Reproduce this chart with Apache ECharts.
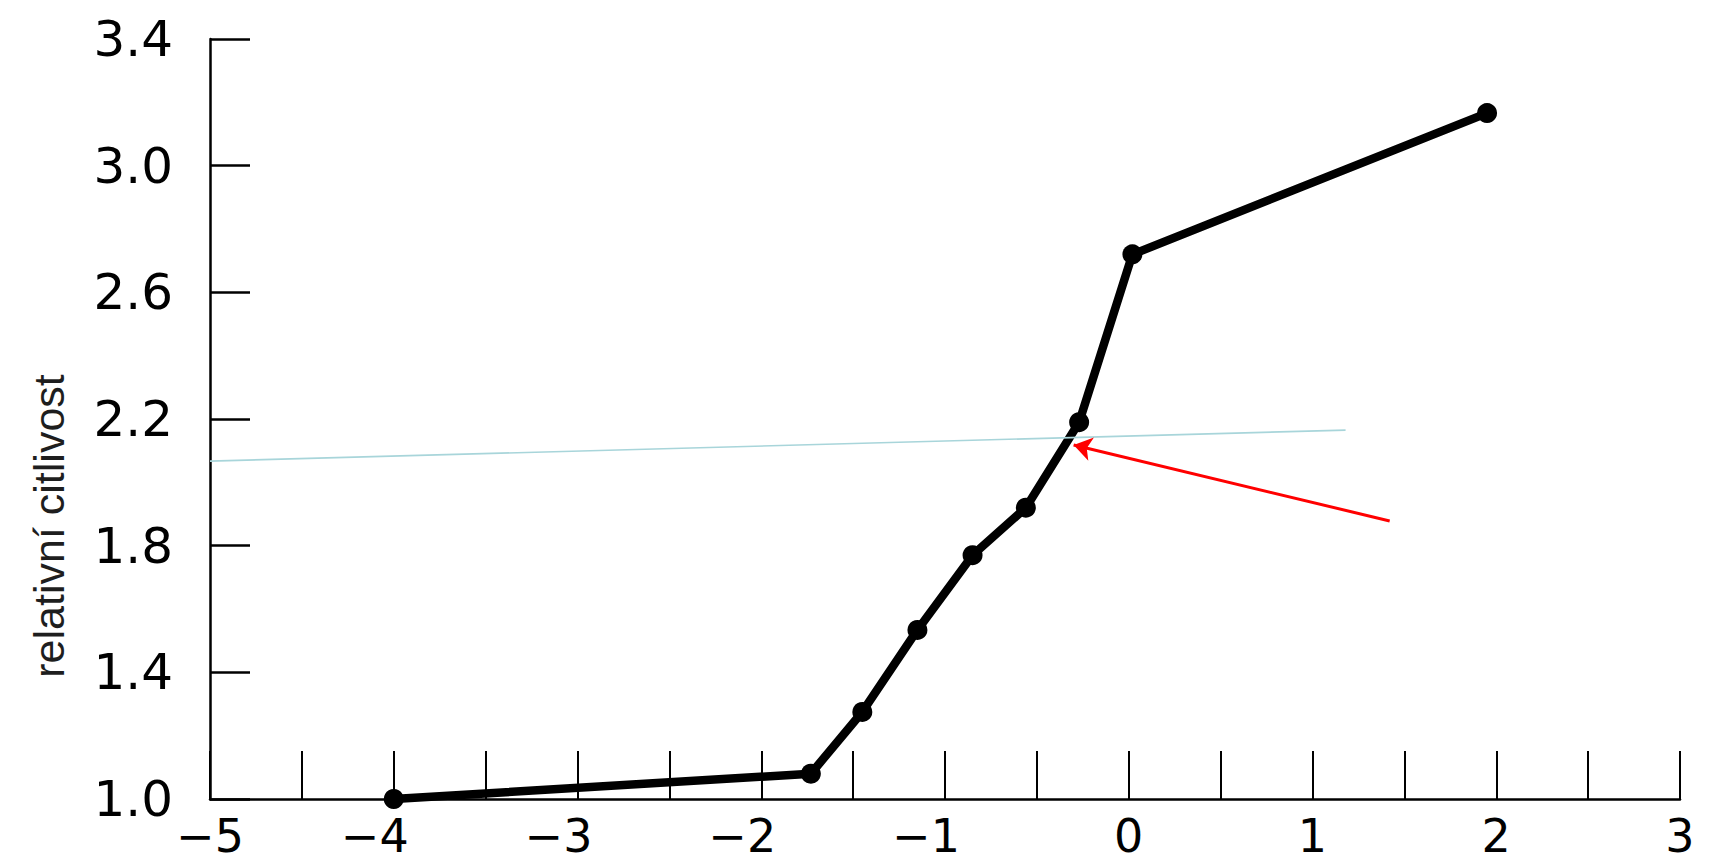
<!DOCTYPE html>
<html>
<head>
<meta charset="utf-8">
<script src="https://cdn.jsdelivr.net/npm/echarts@6/dist/echarts.min.js"></script>
<style>
html,body{margin:0;padding:0;background:#ffffff;}
#chart{width:1709px;height:864px;}
</style>
</head>
<body>
<div id="chart"></div>
<script>
// ---- data ----
const xValues = [-4, -1.73, -1.45, -1.15, -0.85, -0.56, -0.27, 0.02, 1.95];
const yValues = [1.0, 1.08, 1.275, 1.534, 1.77, 1.92, 2.19, 2.72, 3.166];
const xTickLabels = [-5, -4, -3, -2, -1, 0, 1, 2, 3];
const xTickMarks = [-5, -4.5, -4, -3.5, -3, -2.5, -2, -1.5, -1, -0.5, 0, 0.5, 1, 1.5, 2, 2.5, 3];
const yTickLabels = [1.0, 1.4, 1.8, 2.2, 2.6, 3.0, 3.4];
const refLineX = [-5, 1.18];
const refLineY = [2.067, 2.165];
const arrowFrom = [1.42, 1.878];
const arrowTo = [-0.30, 2.118];
const yAxisTitle = 'relativní citlivost';

const chart = echarts.init(document.getElementById('chart'), null, {renderer: 'svg'});

const curve = xValues.map((x, i) => [x, yValues[i]]);
const refLine = refLineX.map((x, i) => [x, refLineY[i]]);

const tickFont = 'DejaVu Sans';
const xMin = xTickLabels[0];

const option = {
  backgroundColor: '#ffffff',
  animation: false,
  grid: {left: 210, right: 29, top: 39, bottom: 65, containLabel: false, outerBoundsMode: 'none'},
  xAxis: {
    type: 'value',
    min: -5,
    max: 3,
    splitLine: {show: false},
    axisLine: {show: true, onZero: false, lineStyle: {color: '#000', width: 2.5}},
    axisTick: {show: true, inside: true, length: 48, customValues: xTickMarks, lineStyle: {color: '#000', width: 2}},
    axisLabel: {
      show: true,
      customValues: xTickLabels,
      margin: 14,
      formatter: function (v) {
        if (v === xMin) return '{n|\u2212' + Math.abs(v) + '}';
        if (v < 0) return '{n|\u2212' + Math.abs(v) + '}{p|}';
        return '{n|' + v + '}';
      },
      rich: {
        n: {fontFamily: tickFont, fontSize: 46, lineHeight: 46, color: '#000'},
        p: {width: 38, lineHeight: 46}
      }
    }
  },
  yAxis: {
    type: 'value',
    min: 1.0,
    max: 3.4,
    splitLine: {show: false},
    axisLine: {show: true, onZero: false, lineStyle: {color: '#000', width: 2.5}},
    axisTick: {show: true, inside: true, length: 40, customValues: yTickLabels, lineStyle: {color: '#000', width: 2.5}},
    axisLabel: {
      show: true,
      customValues: yTickLabels,
      margin: 37,
      fontFamily: tickFont,
      fontSize: 50,
      lineHeight: 50,
      color: '#000',
      formatter: function (v) { return v.toFixed(1); }
    }
  },
  graphic: [{
    type: 'text',
    x: 49,
    y: 526,
    rotation: Math.PI / 2,
    style: {
      text: yAxisTitle,
      font: '43px "Liberation Sans"',
      fill: '#1e1e1e',
      align: 'center',
      verticalAlign: 'middle'
    }
  }],
  series: [
    {
      type: 'line',
      data: curve,
      symbol: 'circle',
      symbolSize: 20,
      lineStyle: {color: '#000', width: 8.5},
      itemStyle: {color: '#000'},
      z: 2
    },
    {
      type: 'line',
      data: refLine,
      symbol: 'none',
      lineStyle: {color: '#a8d5da', width: 1.6},
      z: 3,
      markLine: {
        silent: true,
        symbol: ['none', 'arrow'],
        symbolSize: 18,
        label: {show: false},
        lineStyle: {color: '#ff0000', width: 3, type: 'solid'},
        data: [[{coord: arrowFrom}, {coord: arrowTo}]]
      }
    }
  ]
};
chart.setOption(option);
</script>
</body>
</html>
